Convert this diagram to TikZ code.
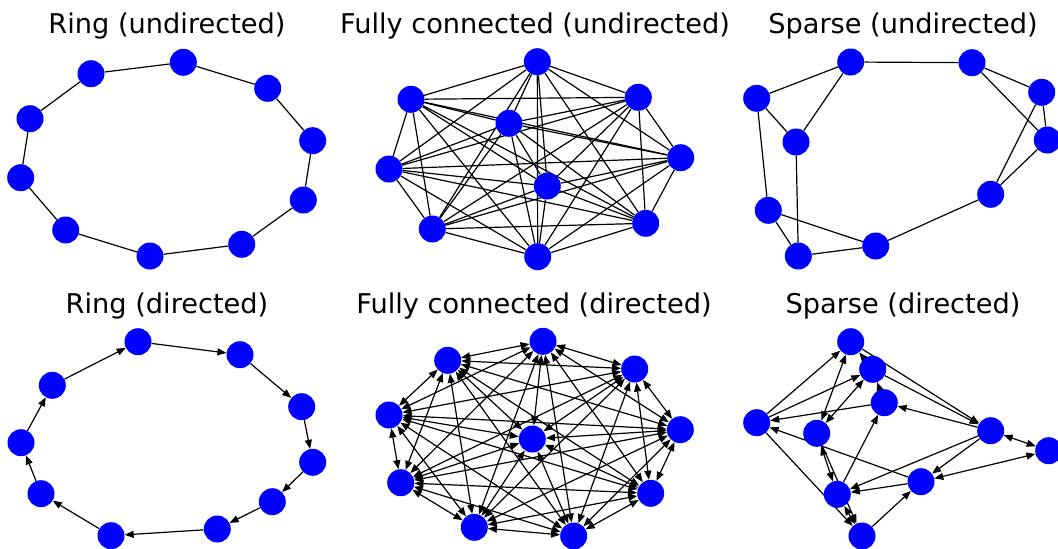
\documentclass[tikz,border=0pt]{standalone}
\usepackage{fontspec}
\setmainfont{DejaVu Sans}
\usetikzlibrary{arrows.meta,backgrounds}
\tikzset{
  vtx/.style={circle,fill=blue,draw=none,inner sep=0pt,minimum size=27pt},
  edg/.style={line width=1.2pt,black},
  arr/.style={edg,-{Triangle[length=9pt,width=7pt]}},
  barr/.style={edg,{Triangle[length=9pt,width=7pt]}-{Triangle[length=9pt,width=7pt]}},
  ttl/.style={anchor=base,inner sep=0pt,font=\fontsize{27.2}{32}\selectfont}
}
\begin{document}
\begin{tikzpicture}[x=1pt,y=-1pt]
\useasboundingbox (0,0) rectangle (1058,549);
% titles
\node[ttl] (t1) at (167,33) {Ring (undirected)};
\node[ttl] (t2) at (535,33) {Fully connected (undirected)};
\node[ttl] (t3) at (903,33) {Sparse (undirected)};
\node[ttl] (t4) at (167,313) {Ring (directed)};
\node[ttl] (t5) at (534,313) {Fully connected (directed)};
\node[ttl] (t6) at (903,313) {Sparse (directed)};
% panel 1
\foreach \n/\x/\y in {1/183.3/62.3,2/267.7/88.3,3/312.7/140.7,4/303.3/200,5/241.7/244.3,6/150/256,7/65.7/230,8/20.7/177.7,9/30/118.7,10/91/73.7}
  \node[vtx] (r\n) at (\x,\y) {};
\begin{scope}[on background layer]
\foreach \a/\b in {1/2,2/3,3/4,4/5,5/6,6/7,7/8,8/9,9/10,10/1}
  \draw[edg] (r\a) -- (r\b);
\end{scope}
% panel 2
\foreach \n/\x/\y in {1/537.3/61.7,2/638.3/97.3,3/680.7/157.7,4/645.7/223.3,5/537.7/256.7,6/432.3/229,7/389/169,8/411/99.3,9/509/123.3,10/547.3/186}
  \node[vtx] (f\n) at (\x,\y) {};
\begin{scope}[on background layer]
\foreach \a in {1,...,9}{
  \pgfmathtruncatemacro{\s}{\a+1}
  \foreach \b in {\s,...,10}
    \draw[edg] (f\a) -- (f\b);
}
\end{scope}
% panel 3
\foreach \n/\x/\y in {A/850.7/62,B/972/62.7,C/1041.7/92.3,D/1047.3/140,E/990.7/194.3,F/875.7/246,G/798.3/256,H/768.3/210.3,I/756.7/98.3,J/796/142}
  \node[vtx] (s\n) at (\x,\y) {};
\begin{scope}[on background layer]
\foreach \a/\b in {A/B,A/I,A/J,I/J,I/H,J/G,H/G,H/F,G/F,F/E,E/C,E/D,C/D,B/C,B/D}
  \draw[edg] (s\a) -- (s\b);
\end{scope}
% panel 4
\foreach \n/\x/\y in {1/138/341.7,2/240/354.7,3/301.7/406.7,4/312.7/462.3,5/272.3/501.7,6/217.3/529,7/111/535.7,8/41/493.7,9/21/442.7,10/52.3/385.3}
  \node[vtx] (d\n) at (\x,\y) {};
\begin{scope}[on background layer]
\foreach \a/\b in {1/2,2/3,3/4,4/5,5/6,6/7,7/8,8/9,9/10,10/1}
  \draw[arr] (d\a) -- (d\b);
\end{scope}
% panel 5
\foreach \n/\x/\y in {1/543/341.3,2/634.7/369,3/680.3/429.7,4/650.7/493.3,5/573.7/536,6/474.3/527.3,7/400.7/482.7,8/389/415,9/447.7/360.3,10/532.3/439}
  \node[vtx] (g\n) at (\x,\y) {};
\begin{scope}[on background layer]
\foreach \a in {1,...,9}{
  \pgfmathtruncatemacro{\s}{\a+1}
  \foreach \b in {\s,...,10}
    \draw[barr] (g\a) -- (g\b);
}
\end{scope}
% panel 6
\foreach \n/\x/\y in {P/850.7/341.7,Q/872.7/369.3,R/884.3/402.7,S/756.7/422.7,T/816.7/433.3,U/990.7/430.7,V/1048.7/450.7,W/921/481.7,X/837.3/494.3,Y/862/536}
  \node[vtx] (p\n) at (\x,\y) {};
\begin{scope}[on background layer]
\foreach \a/\b in {S/P,S/Q,R/S,W/S,Q/P,R/Q,P/U,Q/U,U/R,U/W,U/X,W/X,X/R,Y/W,S/Y,T/Y}
  \draw[arr] (p\a) -- (p\b);
\foreach \a/\b in {T/P,T/Q,U/V,W/V,X/T,X/Y}
  \draw[barr] (p\a) -- (p\b);
\end{scope}
\end{tikzpicture}
\end{document}
